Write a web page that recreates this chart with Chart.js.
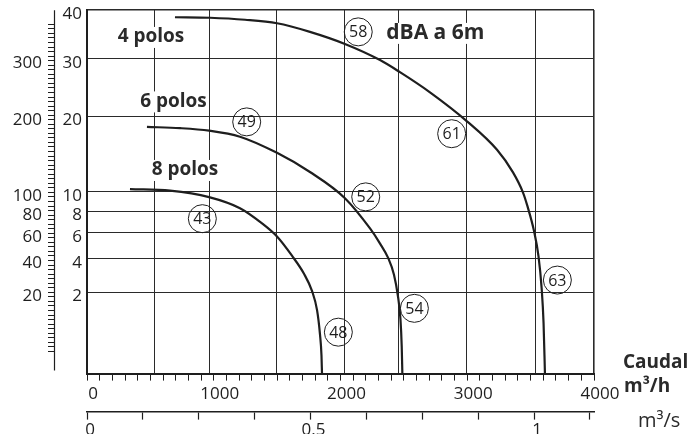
<!DOCTYPE html>
<html><head><meta charset="utf-8">
<script src="https://cdn.jsdelivr.net/npm/chart.js@4"></script>
<style>
html,body{margin:0;padding:0;overflow:hidden;background:#fff;}
#wrap{width:691px;height:434px;overflow:hidden;position:relative;}
canvas{display:block;}
</style></head><body>
<div id="wrap"><canvas id="c" width="691" height="440"></canvas></div>
<script>
// ---- data (caudal m3/h, presión mm c.a.) ----
const SERIES_NAMES = ['4 polos', '6 polos', '8 polos'];
const Q_4P = [694, 970, 1247, 1499, 1759, 2035, 2312, 2469, 2706, 2998, 3235, 3361, 3440, 3475, 3527, 3562, 3587, 3602, 3613];
const P_4P = [38.46, 38.35, 37.92, 37.17, 35.37, 32.91, 29.77, 27.52, 23.96, 19.28, 15.17, 12.26, 9.93, 8.49, 6.15, 4.18, 2.20, 0.78, 0];
const Q_6P = [473, 734, 963, 1207, 1499, 1759, 2035, 2233, 2312, 2375, 2422, 2454, 2473, 2483, 2488];
const P_6P = [18.43, 18.25, 17.88, 17.00, 14.76, 12.31, 9.32, 6.38, 5.12, 4.07, 2.96, 1.78, 0.90, 0.224, 0];
const Q_8P = [339, 655, 963, 1207, 1381, 1499, 1617, 1712, 1775, 1815, 1838, 1850, 1854];
const P_8P = [10.31, 10.14, 9.43, 8.28, 6.83, 5.69, 4.21, 3.02, 2.07, 1.22, 0.47, 0.10, 0];

// noise levels dBA a 6m (circled values) and where they sit
const NOISE_DB = ['58', '49', '52', '43', '61', '54', '48', '63'];
const NOISE_Q  = [2140, 1260, 2199, 910, 2877, 2583, 1983, 3711];
const NOISE_P  = [35.37, 19.19, 9.46, 7.27, 17.43, 1.29, 0.52, 2.65];

// series name anchors
const NAME_Q = [505, 682, 773];
const NAME_P = [34.33, 22.44, 12.56];
const NOTE_TEXT = 'dBA a 6m';
const NOTE_Q = 2748, NOTE_P = 35.16;

// axes
const X_LABELS = [0, 1000, 2000, 3000, 4000];
const X_MAX = 4000, X_MINOR_STEP = 100;
const X_GRID = [536, 963, 1499, 2035, 2461, 2998, 3535, 4000];
const M3S_LABELS = [0, 0.5, 1];
const M3S_MAX = 1.134, M3S_STEP = 0.125;
const MM_TICKS = [2, 4, 6, 8, 10, 20, 30, 40];
const MM_MAX = 40;
const PA_LABELS = [20, 40, 60, 80, 100, 200, 300];
const PA_MAX = 400;
const PA_MINOR_ROOT_STEP = 0.25;   // minor ticks evenly spaced in sqrt(Pa)
const PA_MINOR_FIRST = 5, PA_MINOR_LAST = 77;

// ---- square-root pressure scale ----
class SqrtScale extends Chart.LinearScale {
  getPixelForValue(value) {
    const v = Math.max(0, value - this.min);
    return this.getPixelForDecimal(Math.sqrt(v) / Math.sqrt(this.max - this.min));
  }
  getValueForPixel(pixel) {
    const d = this.getDecimalForPixel(pixel);
    return this.min + d * d * (this.max - this.min);
  }
}
SqrtScale.id = 'sqrt';
SqrtScale.defaults = {};
Chart.register(SqrtScale);

const INK = '#1e1e1e';
const FONT = '"Open Sans", "DejaVu Sans", sans-serif';
const CLEAR = 'rgba(0,0,0,0)';

function pts(q, p) { return q.map((v, i) => ({x: v, y: p[i]})); }
function curve(name, q, p) {
  return {label: name, data: pts(q, p), showLine: true, borderColor: INK, borderWidth: 2.2,
    pointRadius: 0, cubicInterpolationMode: 'monotone', fill: false, xAxisID: 'x', yAxisID: 'y'};
}

const annot = {
  id: 'annot',
  beforeDatasetsDraw(chart) {
    // outer Pa axis: border and evenly spaced minor ticks
    const s = chart.scales.yPa, a = chart.chartArea, ctx = chart.ctx;
    ctx.save();
    ctx.strokeStyle = INK;
    ctx.lineWidth = 1.2;
    ctx.beginPath();
    ctx.moveTo(s.right - 0.5, a.top);
    ctx.lineTo(s.right - 0.5, a.bottom - 3);
    ctx.stroke();
    ctx.lineWidth = 1;
    ctx.beginPath();
    for (let k = PA_MINOR_FIRST; k <= PA_MINOR_LAST; k++) {
      const py = Math.round(s.getPixelForValue(Math.pow(k * PA_MINOR_ROOT_STEP, 2))) + 0.5;
      ctx.moveTo(s.right - 7, py);
      ctx.lineTo(s.right, py);
    }
    ctx.stroke();
    ctx.restore();
  },
  afterDatasetsDraw(chart) {
    const {ctx, scales: {x, y}} = chart;
    ctx.save();
    ctx.textAlign = 'center';
    ctx.textBaseline = 'middle';
    const meta = chart.getDatasetMeta(3);
    ctx.font = '16px ' + FONT;
    ctx.fillStyle = INK;
    meta.data.forEach((el, i) => { ctx.fillText(NOISE_DB[i], el.x, el.y + 1); });
    const boxText = (t, q, p, font) => {
      ctx.font = font;
      const px = x.getPixelForValue(q), py = y.getPixelForValue(p);
      const w = ctx.measureText(t).width;
      ctx.fillStyle = '#fff';
      ctx.fillRect(px - w / 2 - 2, py - 10, w + 4, 21);
      ctx.fillStyle = '#2a2a2a';
      ctx.fillText(t, px, py);
    };
    SERIES_NAMES.forEach((t, i) => boxText(t, NAME_Q[i], NAME_P[i], 'bold 19px ' + FONT));
    boxText(NOTE_TEXT, NOTE_Q, NOTE_P, 'bold 21px ' + FONT);
    ctx.restore();
  },
  afterDraw(chart) {
    const {ctx, chartArea: a} = chart;
    ctx.save();
    ctx.textAlign = 'left';
    ctx.textBaseline = 'middle';
    ctx.fillStyle = '#2a2a2a';
    ctx.font = 'bold 19px ' + FONT;
    ctx.fillText('Caudal', a.right + 29, a.bottom - 11);
    ctx.fillText('m³/h', a.right + 30, a.bottom + 13);
    ctx.font = '20px ' + FONT;
    ctx.fillText('m³/s', a.right + 44, a.bottom + 48);
    ctx.restore();
  }
};

function xTicks() { const t = []; for (let v = 0; v <= X_MAX + 1e-9; v += X_MINOR_STEP) t.push({value: v}); return t; }
function m3sTicks() { const t = []; for (let k = 0; k * M3S_STEP <= M3S_MAX + 1e-9; k++) t.push({value: +(k * M3S_STEP).toFixed(4)}); return t; }

new Chart(document.getElementById('c'), {
  type: 'scatter',
  data: {
    datasets: [
      curve(SERIES_NAMES[0], Q_4P, P_4P),
      curve(SERIES_NAMES[1], Q_6P, P_6P),
      curve(SERIES_NAMES[2], Q_8P, P_8P),
      {label: 'dBA', data: pts(NOISE_Q, NOISE_P), showLine: false, pointRadius: 14,
        pointBorderWidth: 1, pointBorderColor: INK, pointBackgroundColor: CLEAR,
        xAxisID: 'x', yAxisID: 'y'}
    ]
  },
  options: {
    responsive: false,
    animation: false,
    events: [],
    layout: {autoPadding: false, padding: {left: 0, right: 97, top: 2, bottom: 0}},
    plugins: {legend: {display: false}, tooltip: {enabled: false}},
    scales: {
      x: {
        type: 'linear', position: 'bottom', weight: 0, min: 0, max: X_MAX,
        afterBuildTicks: s => { s.ticks = xTicks(); },
        afterFit: s => { s.height = 38; },
        ticks: {autoSkip: false, maxRotation: 0, minRotation: 0, padding: 3, labelOffset: 6,
          color: INK, font: {family: FONT, size: 17},
          callback: v => X_LABELS.includes(v) ? String(v) : ''},
        grid: {drawOnChartArea: false, drawTicks: true, tickLength: 7, tickWidth: 1, tickColor: INK},
        border: {display: true, color: INK, width: 2}
      },
      x2: {
        type: 'linear', position: 'bottom', weight: 1, min: 0, max: M3S_MAX,
        afterBuildTicks: s => { s.ticks = m3sTicks(); },
        ticks: {autoSkip: false, maxRotation: 0, minRotation: 0, padding: 0, labelOffset: 3,
          color: INK, font: {family: FONT, size: 17},
          callback: v => M3S_LABELS.includes(v) ? String(v) : ''},
        grid: {drawOnChartArea: false, drawTicks: true, tickLength: 8, tickWidth: 1.2, tickColor: INK},
        border: {display: true, color: INK, width: 1.5}
      },
      xg: {
        type: 'linear', position: 'top', min: 0, max: X_MAX,
        afterBuildTicks: s => { s.ticks = X_GRID.map(v => ({value: v})); },
        afterFit: s => { s.height = 0; },
        ticks: {display: false},
        grid: {drawOnChartArea: true, drawTicks: false, color: '#2a2a2a',
          lineWidth: c => (c.tick && c.tick.value === X_MAX) ? 1.6 : 1},
        border: {display: false}
      },
      y: {
        type: 'sqrt', position: 'left', weight: 0, min: 0, max: MM_MAX,
        afterBuildTicks: s => { s.ticks = MM_TICKS.map(v => ({value: v})); },
        afterFit: s => { s.width = 32; },
        ticks: {autoSkip: false, padding: 0, labelOffset: 4, color: INK, font: {family: FONT, size: 17},
          callback: v => String(v)},
        grid: {drawOnChartArea: true, drawTicks: true, tickLength: 5, tickColor: CLEAR, color: '#2a2a2a',
          lineWidth: c => (c.tick && c.tick.value === MM_MAX) ? 1.6 : 1},
        border: {display: true, color: INK, width: 2}
      },
      yPa: {
        type: 'sqrt', position: 'left', weight: 1, min: 0, max: PA_MAX,
        afterBuildTicks: s => { s.ticks = PA_LABELS.map(v => ({value: v})); },
        afterFit: s => { s.width = 55; },
        ticks: {autoSkip: false, padding: 0, labelOffset: 4, color: INK, font: {family: FONT, size: 17},
          callback: v => String(v)},
        grid: {display: true, drawOnChartArea: false, drawTicks: true, tickLength: 13,
          tickColor: CLEAR, color: CLEAR},
        border: {display: false}
      }
    }
  },
  plugins: [annot]
});
</script>
</body></html>
